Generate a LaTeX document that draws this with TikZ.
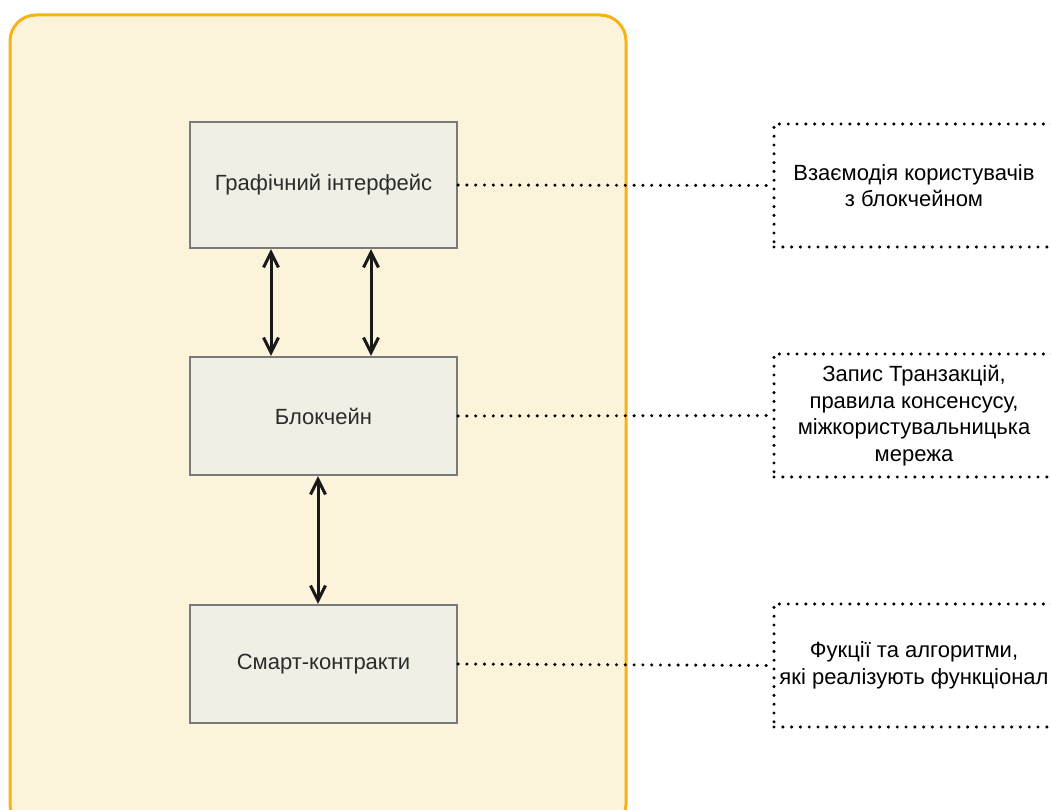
\documentclass[tikz,border=0pt]{standalone}
\usepackage{fontspec}
\setmainfont{Liberation Sans}
\usetikzlibrary{arrows.meta}
\definecolor{contfill}{HTML}{FBF4DA}
\definecolor{contdraw}{HTML}{F7B215}
\definecolor{boxfill}{HTML}{EFEFE5}
\definecolor{boxdraw}{HTML}{7A7A7A}
\definecolor{txt}{HTML}{2B2B2B}
\tikzset{
  compbox/.style={draw=boxdraw, fill=boxfill, line width=2.2pt, minimum width=267pt, text=txt, font=\fontsize{22}{26}\selectfont, inner sep=0pt},
  notebox/.style={draw=black, line width=3.4pt, dash pattern=on 0pt off 8.8pt, line cap=round, minimum width=280pt, minimum height=123pt, align=center, text=black, font=\fontsize{22}{26.5}\selectfont, inner sep=0pt},
  dotline/.style={draw=black, line width=3.4pt, dash pattern=on 0pt off 8.8pt, line cap=round},
  biarrow/.style={draw=black!90, line width=3pt, {Straight Barb[length=15pt,width=15pt]}-{Straight Barb[length=15pt,width=15pt]}}
}
\begin{document}
\begin{tikzpicture}[x=1pt,y=-1pt]
\useasboundingbox (0,0) rectangle (1051,810);
\draw[contdraw, fill=contfill, line width=3pt, rounded corners=26pt] (10,15) rectangle (626,830);
\node[compbox, minimum height=126pt] (g) at (323.5,185) {Графічний інтерфейс};
\node[compbox, minimum height=118pt] (b) at (323.5,416) {Блокчейн};
\node[compbox, minimum height=118pt] (s) at (323.5,664) {Смарт-контракти};
\node[notebox] (ga) at (914,185.5) {Взаємодія користувачів\\з блокчейном};
\node[notebox] (ba) at (914,415.5) {Запис Транзакцій,\\правила консенсусу,\\міжкористувальницька\\мережа};
\node[notebox] (sa) at (914,665.5) {Фукції та алгоритми,\\які реалізують функціонал};
\draw[dotline] (g.east) -- (ga.west);
\draw[dotline] (b.east) -- (ba.west);
\draw[dotline] (s.east) -- (sa.west);
\draw[biarrow] ([xshift=-52.5pt]g.south) -- ([xshift=-52.5pt]b.north);
\draw[biarrow] ([xshift=47.5pt]g.south) -- ([xshift=47.5pt]b.north);
\draw[biarrow] ([xshift=-5.5pt]b.south) -- ([xshift=-5.5pt]s.north);
\end{tikzpicture}
\end{document}
